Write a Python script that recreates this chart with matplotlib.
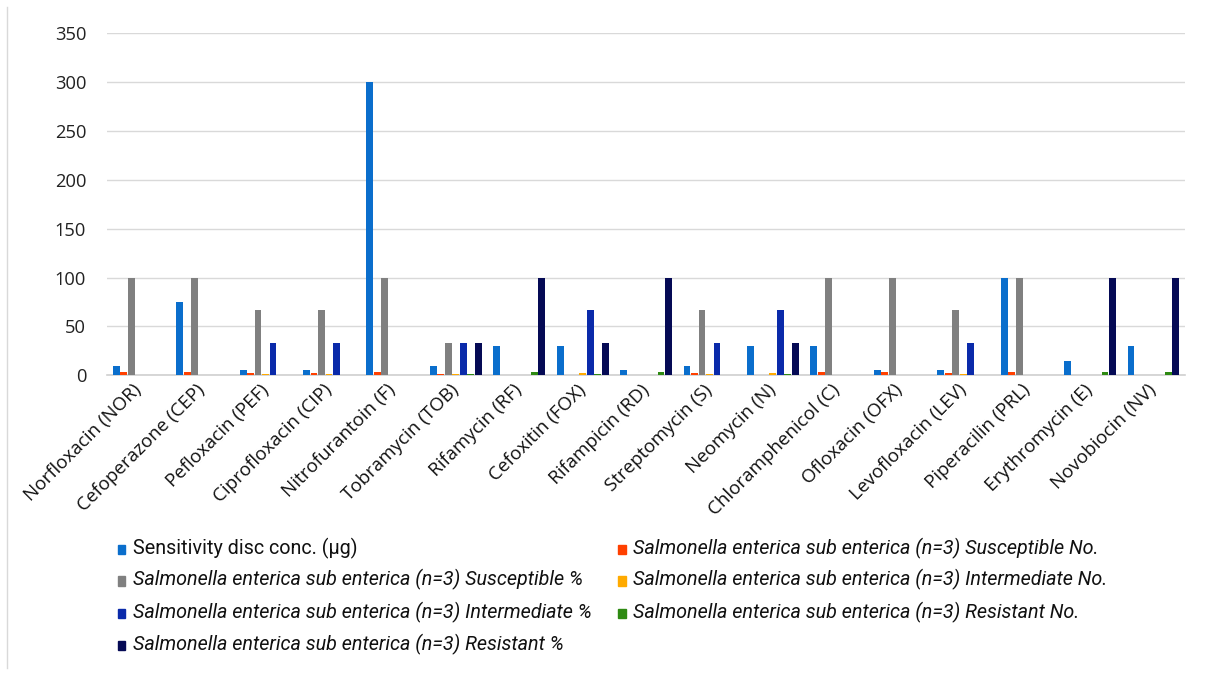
import matplotlib
matplotlib.use("Agg")
import matplotlib.pyplot as plt
import matplotlib.transforms as mtransforms
from matplotlib.lines import Line2D
import numpy as np

antibiotics = [
    "Norfloxacin (NOR)", "Cefoperazone (CEP)", "Pefloxacin (PEF)", "Ciprofloxacin (CIP)",
    "Nitrofurantoin (F)", "Tobramycin (TOB)", "Rifamycin (RF)", "Cefoxitin (FOX)",
    "Rifampicin (RD)", "Streptomycin (S)", "Neomycin (N)", "Chloramphenicol (C)",
    "Ofloxacin (OFX)", "Levofloxacin (LEV)", "Piperacilin (PRL)", "Erythromycin (E)",
    "Novobiocin (NV)",
]

disc_conc = [10, 75, 5, 5, 300, 10, 30, 30, 5, 10, 30, 30, 5, 5, 100, 15, 30]
susceptible_no = [3, 3, 2, 2, 3, 1, 0, 0, 0, 2, 0, 3, 3, 2, 3, 0, 0]
susceptible_pct = [100, 100, 66.7, 66.7, 100, 33.3, 0, 0, 0, 66.7, 0, 100, 100, 66.7, 100, 0, 0]
intermediate_no = [0, 0, 1, 1, 0, 1, 0, 2, 0, 1, 2, 0, 0, 1, 0, 0, 0]
intermediate_pct = [0, 0, 33.3, 33.3, 0, 33.3, 0, 66.7, 0, 33.3, 66.7, 0, 0, 33.3, 0, 0, 0]
resistant_no = [0, 0, 0, 0, 0, 1, 3, 1, 3, 0, 1, 0, 0, 0, 0, 3, 3]
resistant_pct = [0, 0, 0, 0, 0, 33.3, 100, 33.3, 100, 0, 33.3, 0, 0, 0, 0, 100, 100]

series_labels = [
    "Sensitivity disc conc. (µg)",
    "Salmonella enterica sub enterica (n=3) Susceptible No.",
    "Salmonella enterica sub enterica (n=3) Susceptible %",
    "Salmonella enterica sub enterica (n=3) Intermediate No.",
    "Salmonella enterica sub enterica (n=3) Intermediate %",
    "Salmonella enterica sub enterica (n=3) Resistant No.",
    "Salmonella enterica sub enterica (n=3) Resistant %",
]
series_values = [disc_conc, susceptible_no, susceptible_pct, intermediate_no,
                 intermediate_pct, resistant_no, resistant_pct]
series_colors = ["#0A6ECC", "#FF4000", "#808080", "#FFAA00", "#0A2AAA", "#2E8A12", "#050A55"]

axis_font = ["Open Sans", "DejaVu Sans"]
legend_font = ["Roboto", "DejaVu Sans"]

fig = plt.figure(figsize=(12.06, 6.75), dpi=100)
ax = fig.add_axes([0.0887, 0.444, 0.894, 0.507])

n_cat = len(antibiotics)
n_ser = len(series_values)
x = np.arange(n_cat)
bar_w = 0.118
for i, (vals, col) in enumerate(zip(series_values, series_colors)):
    offs = (i - (n_ser - 1) / 2) * bar_w
    ax.bar(x + offs, vals, width=bar_w * 0.92, color=col, zorder=3)

ax.set_xlim(-0.5, n_cat - 0.5)
ax.set_ylim(0, 350)
ax.set_yticks(np.arange(0, 351, 50))
ax.yaxis.grid(True, color="#D9D9D9", linewidth=1.0, zorder=0)
ax.set_axisbelow(True)
for side in ["top", "right", "left"]:
    ax.spines[side].set_visible(False)
ax.spines["bottom"].set_color("#D0D0D0")
ax.spines["bottom"].set_linewidth(1.2)
ax.tick_params(axis="y", length=0, pad=15, labelsize=13.2, labelcolor="#222222")
ax.tick_params(axis="x", length=0, pad=4)
ax.set_xticks(x)
ax.set_xticklabels(antibiotics, rotation=45, ha="right", rotation_mode="anchor",
                   fontsize=13.5, color="#111111", family=axis_font)
# nudge the slanted category labels slightly left so they end under their group
shift = mtransforms.ScaledTranslation(-6 / 100, 0, fig.dpi_scale_trans)
for lbl in ax.get_xticklabels():
    lbl.set_transform(lbl.get_transform() + shift)
for lbl in ax.get_yticklabels():
    lbl.set_family(axis_font)

# legend, two columns laid out row by row
leg_pos = [(0.110, 0.188), (0.525, 0.188), (0.110, 0.141), (0.525, 0.141),
           (0.110, 0.093), (0.525, 0.093), (0.110, 0.045)]
for i, (lx, ly) in enumerate(leg_pos):
    fig.patches.append(plt.Rectangle((lx - 0.0125, ly - 0.0085), 0.0065, 0.0135,
                                     transform=fig.transFigure, color=series_colors[i],
                                     figure=fig))
    fig.text(lx, ly, series_labels[i], fontsize=14.2, family=legend_font,
             style="normal" if i == 0 else "italic", va="center", ha="left",
             color="#111111")

fig.add_artist(Line2D([0.0062, 0.0062], [0.01, 0.99], color="#D9D9D9", linewidth=1.0,
                      transform=fig.transFigure))

fig.savefig("out.png", dpi=100, facecolor="white")
